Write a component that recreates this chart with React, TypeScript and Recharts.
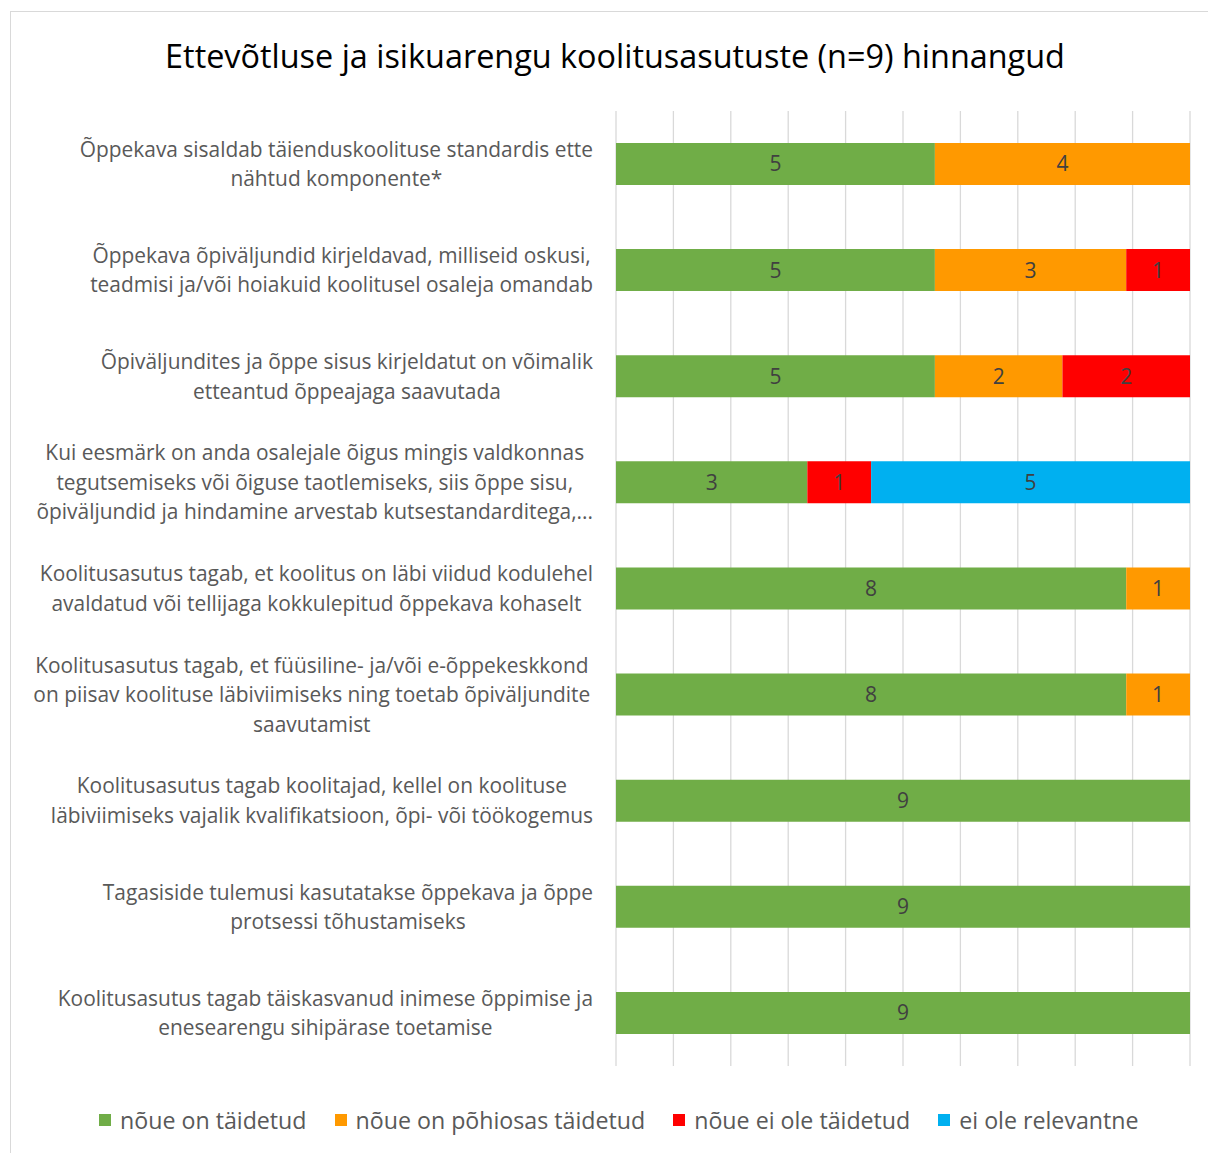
import React from 'react';
import { BarChart, Bar, XAxis, YAxis, CartesianGrid, LabelList } from 'recharts';

const TITLE = 'Ettevõtluse ja isikuarengu koolitusasutuste (n=9) hinnangud';

const CATEGORIES = [
  'Õppekava sisaldab täienduskoolituse standardis ette\nnähtud komponente*',
  'Õppekava õpiväljundid kirjeldavad, milliseid oskusi,\nteadmisi ja/või hoiakuid koolitusel osaleja omandab',
  'Õpiväljundites ja õppe sisus kirjeldatut on võimalik\netteantud õppeajaga saavutada',
  'Kui eesmärk on anda osalejale õigus mingis valdkonnas\ntegutsemiseks või õiguse taotlemiseks, siis õppe sisu,\nõpiväljundid ja hindamine arvestab kutsestandarditega,...',
  'Koolitusasutus tagab, et koolitus on läbi viidud kodulehel\navaldatud või tellijaga kokkulepitud õppekava kohaselt',
  'Koolitusasutus tagab, et füüsiline- ja/või e-õppekeskkond\non piisav koolituse läbiviimiseks ning toetab  õpiväljundite\nsaavutamist',
  'Koolitusasutus tagab koolitajad, kellel on koolituse\nläbiviimiseks vajalik kvalifikatsioon, õpi- või töökogemus',
  'Tagasiside tulemusi kasutatakse õppekava ja õppe\nprotsessi tõhustamiseks',
  'Koolitusasutus tagab täiskasvanud inimese õppimise ja\nenesearengu sihipärase toetamise',
];

const SERIES_NAMES = ['nõue on täidetud', 'nõue on põhiosas täidetud', 'nõue ei ole täidetud', 'ei ole relevantne'];
const SERIES_COLORS = ['#70AD47', '#FF9900', '#FF0000', '#00B0F0'];

const MET = [5, 5, 5, 3, 8, 8, 9, 9, 9];
const MOSTLY_MET = [4, 3, 2, 0, 1, 1, 0, 0, 0];
const NOT_MET = [0, 1, 2, 1, 0, 0, 0, 0, 0];
const NOT_RELEVANT = [0, 0, 0, 5, 0, 0, 0, 0, 0];

const X_TICKS = [0, 0.1, 0.2, 0.3, 0.4, 0.5, 0.6, 0.7, 0.8, 0.9, 1];

const KEYS = ['met', 'mostly', 'not', 'na'];
const data = CATEGORIES.map((name, i) => ({
  name,
  met: MET[i],
  mostly: MOSTLY_MET[i],
  not: NOT_MET[i],
  na: NOT_RELEVANT[i],
}));

const FONT_NAME = 'Open Sans';
const FONT = '"Open Sans", sans-serif';
const LABEL_SIZE = 20.9;
const LINE_H = 29.5;

let ctx: CanvasRenderingContext2D | null = null;
function measure(t: string, font: string) {
  if (!ctx) ctx = document.createElement('canvas').getContext('2d');
  if (!ctx) return t.length * 10;
  ctx.font = font;
  return ctx.measureText(t).width;
}

function CatTick(props: any) {
  const { x, y, payload } = props;
  const lines = String(payload.value).split('\n');
  const font = `${LABEL_SIZE}px "${FONT_NAME}"`;
  const maxW = Math.max(...lines.map((l) => measure(l, font)));
  const cx = x - maxW / 2;
  const y0 = y - ((lines.length - 1) * LINE_H) / 2;
  return (
    <text textAnchor="middle" fill="#595959" fontSize={LABEL_SIZE} fontFamily={FONT}>
      {lines.map((l, i) => (
        <tspan key={i} x={cx} y={y0 + i * LINE_H} dy="0.36em">
          {l}
        </tspan>
      ))}
    </text>
  );
}

const fmt = (v: any) => (v ? v : '');

export default function App() {
  return (
    <div style={{ position: 'absolute', left: 0, top: 0, width: 1208, height: 1153, overflow: 'hidden', background: '#fff' }}>
      <div style={{ position: 'absolute', left: 10, top: 11, width: 1220, height: 1170, border: '1px solid #d9d9d9', boxSizing: 'border-box' }} />
      <div
        style={{
          position: 'absolute',
          left: 0,
          top: 33,
          width: 1230,
          textAlign: 'center',
          fontFamily: FONT,
          fontSize: 32.4,
          lineHeight: '44px',
          color: '#000',
        }}
      >
        {TITLE}
      </div>
      <div style={{ position: 'absolute', left: 0, top: 0 }}>
        <BarChart
          width={1208}
          height={1153}
          data={data}
          layout="vertical"
          stackOffset="expand"
          margin={{ top: 111, right: 18, bottom: 87, left: 16 }}
        >
          <CartesianGrid horizontal={false} stroke="#d9d9d9" strokeWidth={1.3} />
          <XAxis type="number" domain={[0, 1]} ticks={X_TICKS} hide />
          <YAxis
            type="category"
            dataKey="name"
            width={600}
            axisLine={false}
            tickLine={false}
            tickSize={0}
            tickMargin={23}
            tick={<CatTick />}
            interval={0}
          />
          {KEYS.map((k, i) => (
            <Bar key={k} dataKey={k} stackId="s" fill={SERIES_COLORS[i]} barSize={42} isAnimationActive={false}>
              <LabelList dataKey={k} position="center" formatter={fmt} fill="#404040" fontSize={21} fontFamily={FONT} />
            </Bar>
          ))}
        </BarChart>
      </div>
      <div
        style={{
          position: 'absolute',
          left: 99,
          top: 1104,
          display: 'flex',
          alignItems: 'center',
          fontFamily: FONT,
          fontSize: 23.2,
          color: '#595959',
          lineHeight: '32px',
          whiteSpace: 'nowrap',
        }}
      >
        {SERIES_NAMES.map((n, i) => (
          <div key={n} style={{ display: 'flex', alignItems: 'center', marginRight: 28 }}>
            <span style={{ display: 'inline-block', width: 12, height: 12, background: SERIES_COLORS[i], marginRight: 9 }} />
            <span>{n}</span>
          </div>
        ))}
      </div>
    </div>
  );
}
